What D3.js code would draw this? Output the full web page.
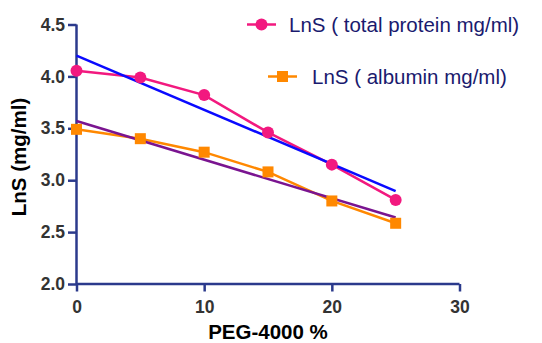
<!DOCTYPE html>
<html>
<head>
<meta charset="utf-8">
<script src="https://cdn.jsdelivr.net/npm/d3@7"></script>
<style>
  body { margin: 0; background: #fff; }
  svg { display: block; font-family: Arial, "Liberation Sans", sans-serif; }
</style>
</head>
<body>
<div class="plot1"></div>
<script>
// data
var peg = [0, 5, 10, 15, 20, 25];
var totalProtein = [4.055, 3.99, 3.82, 3.46, 3.15, 2.81];
var albumin = [3.49, 3.40, 3.27, 3.08, 2.80, 2.585];
// fitted lines, endpoints at x = 0 and x = 25
var fitX = [0, 25];
var fitProtein = [4.20, 2.895];
var fitAlbumin = [3.57, 2.64];
var xTicks = [0, 10, 20, 30];
var yTicks = [2.0, 2.5, 3.0, 3.5, 4.0, 4.5];
var seriesNames = ["LnS ( total protein mg/ml)", "LnS ( albumin mg/ml)"];

var width = 542, height = 343;
var axisColor = "#2b3a8c";
var pink = "#f2197f", orange = "#ff8800";

var svg = d3.select(".plot1").append("svg")
  .attr("width", width)
  .attr("height", height);

var x = d3.scaleLinear().domain([0, 30]).range([76.5, 459.5]);
var y = d3.scaleLinear().domain([2, 4.5]).range([284, 24.5]);

// axes
var xAxis = svg.append("g")
  .attr("transform", "translate(0,284)")
  .call(d3.axisBottom(x).tickValues(xTicks).tickSize(7.5).tickPadding(9).tickFormat(d3.format("d")));
var yAxis = svg.append("g")
  .attr("transform", "translate(76.5,0)")
  .call(d3.axisLeft(y).tickValues(yTicks).tickSize(8.5).tickPadding(3).tickFormat(d3.format(".1f")));

[xAxis, yAxis].forEach(function(a) {
  a.select(".domain").attr("stroke", axisColor).attr("stroke-width", 2.5);
  a.selectAll(".tick line").attr("stroke", axisColor).attr("stroke-width", 2.5);
  a.selectAll(".tick text")
    .attr("fill", "#333")
    .style("font-size", "17.5px")
    .style("font-weight", "bold")
    .style("font-family", "Arial, 'Liberation Sans', sans-serif");
});
xAxis.select(".domain").attr("d", "M76.5,0H459.5");
yAxis.select(".domain").attr("d", "M0,24.5V284");

// axis titles
svg.append("text")
  .attr("x", 268)
  .attr("y", 338.5)
  .style("text-anchor", "middle")
  .style("font-size", "20.5px")
  .style("font-weight", "bold")
  .text("PEG-4000 %");

svg.append("text")
  .attr("transform", "translate(26,157) rotate(-90)")
  .style("text-anchor", "middle")
  .style("font-size", "20.5px")
  .style("font-weight", "bold")
  .text("LnS (mg/ml)");

var line = d3.line()
  .x(function(d) { return x(d[0]); })
  .y(function(d) { return y(d[1]); });

function pairs(xs, ys) {
  return xs.map(function(v, i) { return [v, ys[i]]; });
}

// data lines
svg.append("path")
  .attr("d", line(pairs(peg, totalProtein)))
  .attr("fill", "none").attr("stroke", pink).attr("stroke-width", 2.5);
svg.append("path")
  .attr("d", line(pairs(peg, albumin)))
  .attr("fill", "none").attr("stroke", orange).attr("stroke-width", 2.5);

// fitted lines
svg.append("path")
  .attr("d", line(pairs(fitX, fitProtein)))
  .attr("fill", "none").attr("stroke", "#0a0aff").attr("stroke-width", 2.5);
svg.append("path")
  .attr("d", line(pairs(fitX, fitAlbumin)))
  .attr("fill", "none").attr("stroke", "#7a1490").attr("stroke-width", 2.5);

// markers
svg.selectAll("circle.p")
  .data(pairs(peg, totalProtein))
  .enter()
  .append("circle")
  .attr("class", "p")
  .attr("cx", function(d) { return x(d[0]); })
  .attr("cy", function(d) { return y(d[1]); })
  .attr("r", 6)
  .style("fill", pink);

svg.selectAll("rect.a")
  .data(pairs(peg, albumin))
  .enter()
  .append("rect")
  .attr("class", "a")
  .attr("x", function(d) { return x(d[0]) - 5.5; })
  .attr("y", function(d) { return y(d[1]) - 5.5; })
  .attr("width", 11)
  .attr("height", 11)
  .style("fill", orange);

// legend
var legend = svg.append("g");
var leg = [
  { name: seriesNames[0], color: pink, x0: 247, y0: 24.5, tx: 289 },
  { name: seriesNames[1], color: orange, x0: 268, y0: 76.5, tx: 312 }
];
leg.forEach(function(d, i) {
  legend.append("line")
    .attr("x1", d.x0).attr("x2", d.x0 + 29)
    .attr("y1", d.y0).attr("y2", d.y0)
    .attr("stroke", d.color).attr("stroke-width", 2.5);
  if (i === 0) {
    legend.append("circle")
      .attr("cx", d.x0 + 14.5).attr("cy", d.y0).attr("r", 6)
      .style("fill", d.color);
  } else {
    legend.append("rect")
      .attr("x", d.x0 + 14.5 - 5.5).attr("y", d.y0 - 5.5)
      .attr("width", 11).attr("height", 11)
      .style("fill", d.color);
  }
  legend.append("text")
    .attr("x", d.tx)
    .attr("y", d.y0 + 7.5)
    .style("font-size", "20.5px")
    .style("fill", "#1a1a6e")
    .text(d.name);
});
</script>
</body>
</html>
